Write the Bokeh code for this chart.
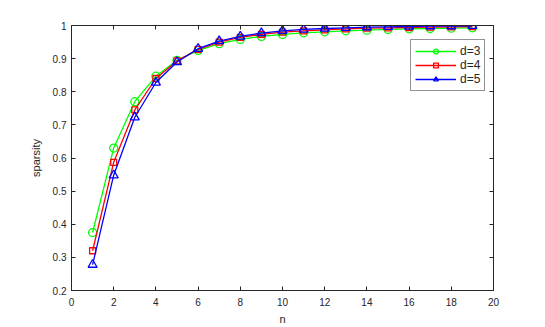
from bokeh.plotting import figure
from bokeh.models import LinearAxis, Range1d, FixedTicker, Legend
from bokeh.embed import file_html
from bokeh.resources import INLINE

n = list(range(1, 20))
d3 = [0.375, 0.630, 0.770, 0.847, 0.895, 0.925, 0.945, 0.958, 0.967, 0.973,
      0.978, 0.981, 0.984, 0.986, 0.988, 0.990, 0.991, 0.992, 0.993]
d4 = [0.320, 0.587, 0.745, 0.840, 0.893, 0.928, 0.950, 0.964, 0.973, 0.980,
      0.984, 0.987, 0.990, 0.992, 0.993, 0.994, 0.995, 0.996, 0.997]
d5 = [0.278, 0.548, 0.723, 0.828, 0.890, 0.930, 0.953, 0.967, 0.977, 0.984,
      0.988, 0.991, 0.993, 0.995, 0.996, 0.997, 0.998, 0.998, 0.999]
x_ticks = [0, 2, 4, 6, 8, 10, 12, 14, 16, 18, 20]
y_ticks = [0.2, 0.3, 0.4, 0.5, 0.6, 0.7, 0.8, 0.9, 1.0]
y_labels = {0.2: "0.2", 0.3: "0.3", 0.4: "0.4", 0.5: "0.5", 0.6: "0.6",
            0.7: "0.7", 0.8: "0.8", 0.9: "0.9", 1.0: "1"}

FONT = "Liberation Sans"
AX = "#262626"

p = figure(width=537, height=327, output_backend="svg", toolbar_location=None,
           x_range=Range1d(0, 20), y_range=Range1d(0.2, 1.0),
           min_border_left=71, min_border_top=25, min_border_right=44,
           min_border_bottom=37)
p.xgrid.visible = False
p.ygrid.visible = False
p.outline_line_color = AX
p.background_fill_color = "white"
p.border_fill_color = "white"

for ax in (p.xaxis[0], p.yaxis[0]):
    ax.major_tick_in = 4
    ax.major_tick_out = 0
    ax.minor_tick_line_color = None
    ax.axis_line_color = AX
    ax.major_tick_line_color = AX
    ax.major_label_text_font = FONT
    ax.major_label_text_font_size = "10px"
    ax.major_label_text_color = AX
    ax.axis_label_text_font = FONT
    ax.axis_label_text_font_size = "11px"
    ax.axis_label_text_font_style = "normal"
    ax.axis_label_text_color = AX

p.xaxis.ticker = FixedTicker(ticks=x_ticks)
p.yaxis.ticker = FixedTicker(ticks=y_ticks)
p.yaxis.major_label_overrides = y_labels
p.xaxis.major_label_standoff = 7
p.xaxis.axis_label = "n"
p.yaxis.axis_label = "sparsity"
p.xaxis.axis_label_standoff = 4
p.yaxis.axis_label_standoff = 8

blank_x = {t: "" for t in x_ticks}
blank_y = {t: "" for t in y_ticks}
top = LinearAxis(ticker=FixedTicker(ticks=x_ticks), major_tick_in=4, major_tick_out=0,
                 minor_tick_line_color=None, axis_line_color=AX, major_tick_line_color=AX,
                 major_label_overrides=blank_x)
right = LinearAxis(ticker=FixedTicker(ticks=y_ticks), major_tick_in=4, major_tick_out=0,
                   minor_tick_line_color=None, axis_line_color=AX, major_tick_line_color=AX,
                   major_label_overrides=blank_y)
p.add_layout(top, "above")
p.add_layout(right, "right")

series = [(d3, "#00ff00", "circle", 8, "d=3"),
          (d4, "#ff0000", "square", 6, "d=4"),
          (d5, "#0000ff", "triangle", 9, "d=5")]
items = []
for vals, col, mk, sz, lab in series:
    r1 = p.line(n, vals, line_color=col, line_width=1.3)
    r2 = p.scatter(n, vals, marker=mk, size=sz, line_color=col, fill_color=None,
                   line_width=1.3)
    items.append((lab, [r1, r2]))

legend = Legend(items=items, location=(339, 199))
legend.label_text_font = FONT
legend.label_text_font_size = "12px"
legend.label_text_color = AX
legend.border_line_color = AX
legend.border_line_width = 1
legend.margin = 0
legend.padding = 4
legend.spacing = 0
legend.glyph_width = 41
legend.label_standoff = 4
legend.label_height = 12
legend.glyph_height = 12
legend.background_fill_alpha = 1
p.add_layout(legend, "center")

open("out.html", "w").write(file_html(p, INLINE))
